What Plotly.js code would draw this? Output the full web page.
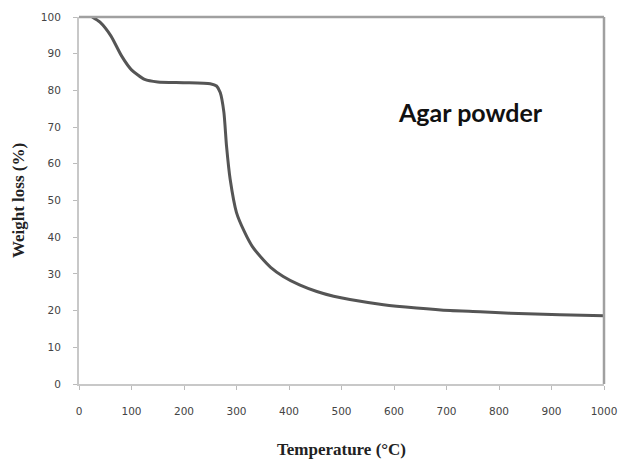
<!DOCTYPE html>
<html>
<head>
<meta charset="utf-8">
<script src="https://cdn.plot.ly/plotly-3.0.1.min.js"></script>
<style>html,body{margin:0;padding:0;background:#fff;}#chart{width:621px;height:461px;}</style>
</head>
<body>
<div id="chart"></div>
<script>
var temperature = [25, 40, 61, 81, 100, 125, 150, 200, 250, 262, 269, 276, 281, 288, 300, 315, 330, 345, 365, 389, 420, 453, 485, 516, 580, 643, 707, 764, 821, 916, 1000];
var weightLoss  = [100, 98.6, 94.8, 89.4, 85.6, 83.0, 82.3, 82.1, 81.8, 81.2, 79.4, 74, 64.8, 55.7, 46.7, 41.5, 37.5, 34.8, 31.8, 29.3, 27.0, 25.2, 23.9, 23.0, 21.6, 20.7, 20.0, 19.7, 19.3, 18.9, 18.6];
var xTicks = [0, 100, 200, 300, 400, 500, 600, 700, 800, 900, 1000];
var yTicks = [0, 10, 20, 30, 40, 50, 60, 70, 80, 90, 100];
var sampleLabel = "Agar powder";

var trace = {
  x: temperature, y: weightLoss, type: 'scatter', mode: 'lines',
  line: {color: '#555555', width: 3, shape: 'spline', smoothing: 0.6},
  hoverinfo: 'skip'
};
var tickFont = {family: 'DejaVu Sans, Verdana, sans-serif', size: 10.5, color: '#444'};
var titleFont = {family: 'Liberation Serif, Times New Roman, serif', size: 17, color: '#222', weight: 'bold'};
var layout = {
  width: 621, height: 461,
  margin: {l: 79, r: 17, t: 17, b: 77},
  paper_bgcolor: '#fff', plot_bgcolor: '#fff',
  showlegend: false,
  xaxis: {
    range: [0, 1000], tickvals: xTicks, ticktext: xTicks.map(String),
    showgrid: false, zeroline: false, showline: true, linecolor: '#c8c8c8', linewidth: 2,
    ticks: 'outside', ticklen: 4, tickcolor: '#bbb', tickwidth: 1,
    ticklabelstandoff: 12,
    tickfont: tickFont,
    title: {text: 'Temperature (°C)', standoff: 28, font: titleFont}
  },
  yaxis: {
    range: [0, 100], tickvals: yTicks, ticktext: yTicks.map(String),
    showgrid: false, zeroline: false, showline: true, linecolor: '#c8c8c8', linewidth: 2,
    ticks: 'outside', ticklen: 4, tickcolor: '#bbb', tickwidth: 1,
    ticklabelstandoff: 10,
    tickfont: tickFont,
    title: {text: 'Weight loss (%)', standoff: 12, font: titleFont}
  },
  shapes: [
    {type: 'line', xref: 'paper', yref: 'paper', x0: 0, x1: 1, y0: 1, y1: 1, line: {color: '#a0a0a0', width: 2.5}},
    {type: 'line', xref: 'paper', yref: 'paper', x0: 1, x1: 1, y0: 0, y1: 1, line: {color: '#a0a0a0', width: 2.5}}
  ],
  annotations: [{
    text: sampleLabel, x: 745, y: 74, xref: 'x', yref: 'y', showarrow: false,
    xanchor: 'center', yanchor: 'middle',
    font: {family: 'Lato, Open Sans, sans-serif', size: 25, color: '#111', weight: 'bold'}
  }]
};
Plotly.newPlot('chart', [trace], layout, {staticPlot: true, displayModeBar: false});
</script>
</body>
</html>
